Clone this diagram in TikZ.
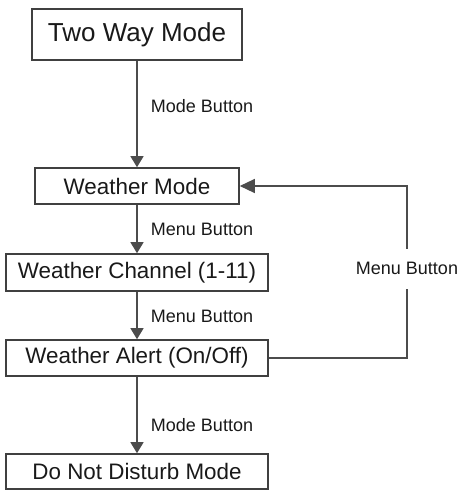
\documentclass[tikz,border=0pt]{standalone}
\usepackage{fontspec}
\setmainfont{Liberation Sans}
\usetikzlibrary{arrows.meta}
\tikzset{
  box/.style = {draw=black!75, line width=1.6pt, text=black!90, inner sep=0pt,
    font=\fontsize{22.4}{26}\selectfont, minimum width=262pt, minimum height=36pt},
  lbl/.style = {text=black!90, font=\fontsize{18}{21}\selectfont, anchor=west, xshift=10pt},
  arr/.style = {draw=black!70, line width=1.3pt, -{Triangle[width=13pt,length=11pt]}}
}
\begin{document}
\begin{tikzpicture}[x=1pt, y=-1pt]
\useasboundingbox (0,0) rectangle (459,492);
\draw(137,34.5) node[box, minimum width=210pt, minimum height=51pt, font=\fontsize{26}{30}\selectfont] (two) {Two Way Mode};
\draw(137,186) node[box, minimum width=204pt] (wmode) {Weather Mode};
\draw(137,272.5) node[box, minimum height=37pt] (chan) {Weather Channel (1-11)};
\draw(137,358) node[box] (alert) {Weather Alert (On/Off)};
\draw(137,471.5) node[box, minimum height=35pt] (dnd) {Do Not Disturb Mode};
\draw[arr] (two) -- node[lbl, pos=0.43] {Mode Button} (wmode);
\draw[arr] (wmode) -- node[lbl, pos=0.5] {Menu Button} (chan);
\draw[arr] (chan) -- node[lbl, pos=0.52] {Menu Button} (alert);
\draw[arr] (alert) -- node[lbl, pos=0.63] {Mode Button} (dnd);
% back to weather mode
\coordinate (fb) at (407,358);
\draw[arr, -{Triangle[width=14pt,length=15pt]}] (alert.east) -- (fb) |- node[pos=0.26, fill=white, text=black!90, font=\fontsize{18}{21}\selectfont, minimum height=40pt] {Menu Button} (wmode.east);
\end{tikzpicture}
\end{document}
